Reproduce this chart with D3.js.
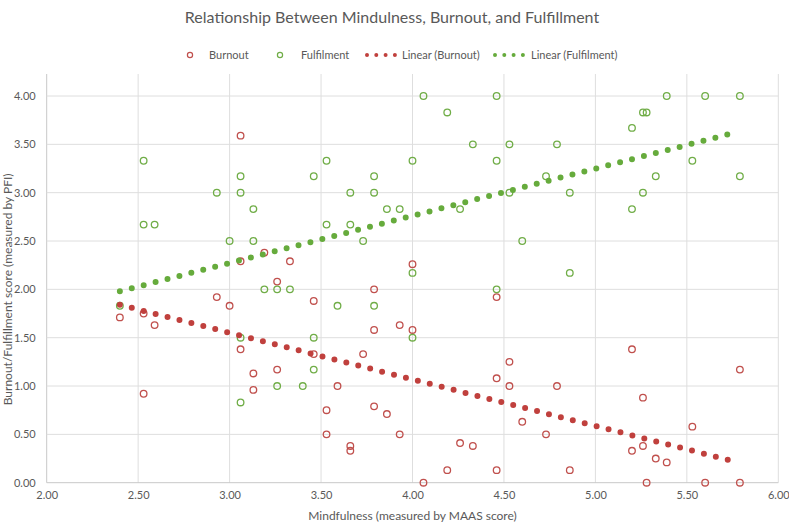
<!DOCTYPE html>
<html>
<head>
<meta charset="utf-8">
<script src="https://cdn.jsdelivr.net/npm/d3@7"></script>
<style>
  body { margin: 0; background: #fff; }
  text { font-family: Lato, "Noto Sans", sans-serif; fill: #595959; }
</style>
</head>
<body>
<div id="chart"></div>
<script>
// data
const burnoutX = [2.40, 2.53, 2.53, 2.59, 2.93, 3.00, 3.06, 3.06, 3.06, 3.13, 3.13, 3.19, 3.26, 3.26, 3.33,
  3.46, 3.46, 3.53, 3.53, 3.59, 3.66, 3.66, 3.73, 3.79, 3.79, 3.79, 3.86, 3.93, 3.93, 4.00, 4.00, 4.06,
  4.19, 4.26, 4.33, 4.46, 4.46, 4.46, 4.53, 4.53, 4.60, 4.73, 4.79, 4.86, 5.20, 5.20, 5.26, 5.26, 5.28,
  5.33, 5.39, 5.53, 5.60, 5.79, 5.79];
const burnoutY = [1.71, 1.75, 0.92, 1.63, 1.92, 1.83, 3.59, 2.29, 1.38, 1.13, 0.96, 2.38, 2.08, 1.17, 2.29,
  1.88, 1.33, 0.75, 0.50, 1.00, 0.38, 0.33, 1.33, 2.00, 1.58, 0.79, 0.71, 1.63, 0.50, 2.26, 1.58, 0.00,
  0.13, 0.41, 0.38, 1.92, 1.08, 0.13, 1.25, 1.00, 0.63, 0.50, 1.00, 0.13, 1.38, 0.33, 0.88, 0.38, 0.00,
  0.25, 0.21, 0.58, 0.00, 1.17, 0.00];

const fulfilX = [2.40, 2.53, 2.53, 2.59, 2.93, 3.00, 3.06, 3.06, 3.06, 3.06, 3.13, 3.13, 3.19, 3.26, 3.26,
  3.33, 3.40, 3.46, 3.46, 3.46, 3.53, 3.53, 3.59, 3.66, 3.66, 3.73, 3.79, 3.79, 3.79, 3.86, 3.93, 4.00,
  4.00, 4.00, 4.06, 4.19, 4.26, 4.33, 4.46, 4.46, 4.46, 4.53, 4.53, 4.60, 4.73, 4.79, 4.86, 4.86, 5.20,
  5.20, 5.26, 5.28, 5.26, 5.33, 5.39, 5.53, 5.60, 5.79, 5.79];
const fulfilY = [1.83, 3.33, 2.67, 2.67, 3.00, 2.50, 3.17, 3.00, 1.50, 0.83, 2.83, 2.50, 2.00, 2.00, 1.00,
  2.00, 1.00, 3.17, 1.50, 1.17, 3.33, 2.67, 1.83, 3.00, 2.67, 2.50, 3.17, 3.00, 1.83, 2.83, 2.83, 3.33,
  2.17, 1.50, 4.00, 3.83, 2.83, 3.50, 4.00, 3.33, 2.00, 3.50, 3.00, 2.50, 3.17, 3.50, 3.00, 2.17, 3.67,
  2.83, 3.83, 3.83, 3.00, 3.17, 4.00, 3.33, 4.00, 4.00, 3.17];

// linear trendline ends (x, y) as drawn, first and last dot
const burnoutTrend = [[2.40, 1.84], [5.74, 0.23]];
const fulfilTrend = [[2.40, 1.98], [5.74, 3.61]];

const xTicks = [2.0, 2.5, 3.0, 3.5, 4.0, 4.5, 5.0, 5.5, 6.0];
const yTicks = [0.0, 0.5, 1.0, 1.5, 2.0, 2.5, 3.0, 3.5, 4.0];

const RED = '#c0504d', GREEN = '#70ad47';
const RED_DOT = '#c0403d', GREEN_DOT = '#66ab3c';

const W = 789, H = 524;
const mLeft = 46.7, mRight = 778.3, mTop = 96, mBottom = 482.7, plotTop = 74;

const svg = d3.select('#chart').append('svg')
  .attr('width', W).attr('height', H);

const x = d3.scaleLinear().domain([2, 6]).range([mLeft, mRight]);
const y = d3.scaleLinear().domain([0, 4]).range([mBottom, mTop]);

// gridlines
svg.append('g').selectAll('line').data(xTicks).join('line')
  .attr('x1', d => x(d)).attr('x2', d => x(d))
  .attr('y1', plotTop).attr('y2', mBottom)
  .attr('stroke', d => d === 2 ? '#c8c8c8' : '#dedede').attr('stroke-width', 1);

svg.append('g').selectAll('line').data(yTicks).join('line')
  .attr('x1', mLeft).attr('x2', mRight)
  .attr('y1', d => y(d)).attr('y2', d => y(d))
  .attr('stroke', d => d === 0 ? '#c8c8c8' : '#dedede').attr('stroke-width', 1);

// tick labels
const fmt = d3.format('.2f');
const xAxis = d3.axisBottom(x).tickValues(xTicks).tickFormat(fmt).tickSize(0).tickPadding(9);
const yAxis = d3.axisLeft(y).tickValues(yTicks).tickFormat(fmt).tickSize(0).tickPadding(11);

svg.append('g').attr('transform', `translate(0,${mBottom})`).call(xAxis)
  .call(g => g.select('.domain').remove())
  .selectAll('text').attr('font-family', 'Lato, sans-serif').attr('font-size', 11).attr('fill', '#595959');
svg.append('g').attr('transform', `translate(${mLeft},0)`).call(yAxis)
  .call(g => g.select('.domain').remove())
  .selectAll('text').attr('font-family', 'Lato, sans-serif').attr('font-size', 11).attr('fill', '#595959');

// points
const burnout = burnoutX.map((v, i) => ({x: v, y: burnoutY[i]}));
const fulfil = fulfilX.map((v, i) => ({x: v, y: fulfilY[i]}));

svg.append('g').selectAll('circle').data(burnout).join('circle')
  .attr('cx', d => x(d.x)).attr('cy', d => y(d.y)).attr('r', 3.3)
  .attr('fill', 'none').attr('stroke', RED).attr('stroke-width', 1.3);

svg.append('g').selectAll('circle').data(fulfil).join('circle')
  .attr('cx', d => x(d.x)).attr('cy', d => y(d.y)).attr('r', 3.3)
  .attr('fill', 'none').attr('stroke', GREEN).attr('stroke-width', 1.3);

// trendlines, round dotted
const line = d3.line().x(d => x(d[0])).y(d => y(d[1]));
[[burnoutTrend, RED_DOT], [fulfilTrend, GREEN_DOT]].forEach(([t, c]) => {
  svg.append('path').datum(t).attr('d', line)
    .attr('fill', 'none').attr('stroke', c).attr('stroke-width', 6)
    .attr('stroke-linecap', 'round').attr('stroke-dasharray', '0 12.3');
});

// title
svg.append('text').attr('x', 392).attr('y', 23).attr('text-anchor', 'middle')
  .attr('font-size', 16).text('Relationship Between Mindulness, Burnout, and Fulfillment');

// legend
const lg = svg.append('g').attr('font-size', 11);
lg.append('circle').attr('cx', 190).attr('cy', 55).attr('r', 2.6)
  .attr('fill', 'none').attr('stroke', RED).attr('stroke-width', 1.2);
lg.append('text').attr('x', 209).attr('y', 59).text('Burnout');
lg.append('circle').attr('cx', 280).attr('cy', 55).attr('r', 2.6)
  .attr('fill', 'none').attr('stroke', GREEN).attr('stroke-width', 1.2);
lg.append('text').attr('x', 301).attr('y', 59).text('Fulfilment');
[[367, RED_DOT], [495, GREEN_DOT]].forEach(([x0, c]) => {
  lg.append('line').attr('x1', x0).attr('x2', x0 + 28).attr('y1', 55).attr('y2', 55)
    .attr('stroke', c).attr('stroke-width', 4).attr('stroke-linecap', 'round')
    .attr('stroke-dasharray', '0 9.3');
});
lg.append('text').attr('x', 402).attr('y', 59).text('Linear (Burnout)');
lg.append('text').attr('x', 531).attr('y', 59).text('Linear (Fulfilment)');

// axis titles
svg.append('text').attr('x', (mLeft + mRight) / 2).attr('y', 520).attr('text-anchor', 'middle')
  .attr('font-size', 12).text('Mindfulness (measured by MAAS score)');
svg.append('text').attr('transform', `translate(12,${(mTop + mBottom) / 2}) rotate(-90)`)
  .attr('text-anchor', 'middle').attr('font-size', 12)
  .text('Burnout/Fulfillment score (measured by PFI)');
</script>
</body>
</html>
